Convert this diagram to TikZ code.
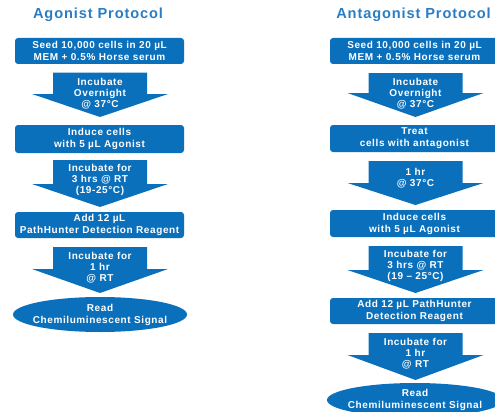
\documentclass[tikz,border=0pt]{standalone}
\usepackage{fontspec}
\setmainfont{Liberation Sans}[LetterSpace=6]
\usepackage{tikz}
\usetikzlibrary{shapes.geometric}
\definecolor{stepblue}{HTML}{0B70BC}
\definecolor{headblue}{HTML}{2A7DC4}

\begin{document}
\begin{tikzpicture}[x=1pt,y=-1pt,
  box/.style={fill=stepblue,rounded corners=3pt,minimum width=169pt,minimum height=26pt,
    inner sep=0pt,align=center,text=white,font=\bfseries\fontsize{10}{12}\selectfont},
  readout/.style={ellipse,fill=stepblue,inner xsep=-14pt,inner ysep=-1pt,align=center,text=white,
    font=\bfseries\fontsize{10}{12}\selectfont},
  blk/.style={fill=stepblue},
  blktext/.style={align=center,text=white,inner sep=0pt,font=\bfseries\fontsize{10}{11}\selectfont},
  head/.style={text=headblue,font=\bfseries\fontsize{14.6}{16}\selectfont}]
  \useasboundingbox (0,0) rectangle (495,412);
  \clip (0,0) rectangle (495,412);
  % agonist
  \node[head] (agtitle) at (98,15) {Agonist Protocol};
  \node[box] (ag1) at (99.5,51) {Seed 10,000 cells in 20 µL\\MEM + 0.5\% Horse serum};
  \fill[blk] (53,72.5) -- (147,72.5) -- (147,94) -- (168,94) -- (100,117) -- (32,94) -- (53,94) -- cycle;
  \node[blktext] (aga1) at (100,94) {Incubate\\Overnight\\@ 37°C};
  \node[box,minimum height=28pt] (ag2) at (99.5,139) {Induce cells\\with 5 µL Agonist};
  \fill[blk] (53,160) -- (147,160) -- (147,184) -- (168,184) -- (100,207) -- (32,184) -- (53,184) -- cycle;
  \node[blktext] (aga2) at (100,180) {Incubate for\\3 hrs @ RT\\(19-25°C)};
  \node[box] (ag3) at (99.5,225) {Add 12 µL\\PathHunter Detection Reagent};
  \fill[blk] (53,247) -- (147,247) -- (147,269) -- (168,269) -- (100,293) -- (32,269) -- (53,269) -- cycle;
  \node[blktext] (aga3) at (100,268) {Incubate for\\1 hr\\@ RT};
  \node[readout,minimum width=174pt,minimum height=35pt] (ag4) at (100,314.5) {Read\\Chemiluminescent Signal};
  % antagonist
  \node[head] (antitle) at (413.5,15) {Antagonist Protocol};
  \node[box] (an1) at (414.5,51) {Seed 10,000 cells in 20 µL\\MEM + 0.5\% Horse serum};
  \fill[blk] (368.5,73) -- (462.5,73) -- (462.5,93) -- (483.5,93) -- (415.5,117) -- (347.5,93) -- (368.5,93) -- cycle;
  \node[blktext] (ana1) at (415.5,93.5) {Incubate\\Overnight\\@ 37°C};
  \node[box,minimum height=27pt] (an2) at (414.5,138.5) {Treat\\cells with antagonist};
  \fill[blk] (368.5,161) -- (462.5,161) -- (462.5,183) -- (483.5,183) -- (415.5,205) -- (347.5,183) -- (368.5,183) -- cycle;
  \node[blktext] (ana2) at (415.5,178) {1 hr\\@ 37°C};
  \node[box,minimum height=27pt] (an3) at (414.5,223.5) {Induce cells\\with 5 µL Agonist};
  \fill[blk] (368.5,246) -- (462.5,246) -- (462.5,270) -- (483.5,270) -- (415.5,293) -- (347.5,270) -- (368.5,270) -- cycle;
  \node[blktext] (ana3) at (415.5,266) {Incubate for\\3 hrs @ RT\\(19 – 25°C)};
  \node[box] (an4) at (414.5,311) {Add 12 µL PathHunter\\Detection Reagent};
  \fill[blk] (368.5,333) -- (462.5,333) -- (462.5,355) -- (483.5,355) -- (415.5,380) -- (347.5,355) -- (368.5,355) -- cycle;
  \node[blktext] (ana4) at (415.5,353.5) {Incubate for\\1 hr\\@ RT};
  \node[readout,minimum width=176pt,minimum height=34pt] (an5) at (415,400) {Read\\Chemiluminescent Signal};
\end{tikzpicture}
\end{document}
